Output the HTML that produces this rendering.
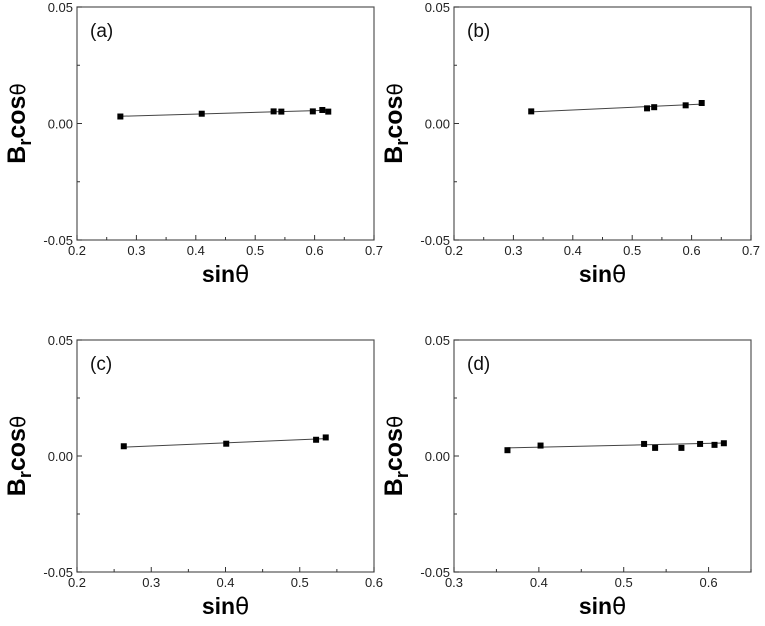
<!DOCTYPE html>
<html><head><meta charset="utf-8"><style>
body{margin:0;background:#fff;}
svg{display:block;font-family:"Liberation Sans",Arial,sans-serif;}
</style></head><body>
<svg id="fig" width="765" height="626"></svg>
<script>
const xsA=[0.273,0.410,0.531,0.544,0.597,0.613,0.623];
const ysA=[0.0030,0.0042,0.0052,0.0051,0.0052,0.0058,0.0051];
const fitA=[0.0031,0.0057];
const xsB=[0.330,0.525,0.537,0.590,0.617];
const ysB=[0.0052,0.0065,0.0070,0.0078,0.0088];
const fitB=[0.0050,0.0083];
const xsC=[0.263,0.401,0.522,0.535];
const ysC=[0.0042,0.0053,0.0070,0.0080];
const fitC=[0.0038,0.0075];
const xsD=[0.363,0.402,0.524,0.537,0.568,0.590,0.607,0.618];
const ysD=[0.0025,0.0045,0.0052,0.0035,0.0035,0.0052,0.0048,0.0055];
const fitD=[0.0035,0.0056];
const xTicksAB=[0.2,0.3,0.4,0.5,0.6,0.7];
const xTicksC=[0.2,0.3,0.4,0.5,0.6];
const xTicksD=[0.3,0.4,0.5,0.6];
const yTicks=[-0.05,0.00,0.05];
const panelLabels=['(a)','(b)','(c)','(d)'];

const NS='http://www.w3.org/2000/svg';
const svg=document.getElementById('fig');
function mk(tag,attrs,parent){const e=document.createElementNS(NS,tag);for(const k in attrs)e.setAttribute(k,attrs[k]);(parent||svg).appendChild(e);return e;}

const panels=[
 {L:77,T:7,W:297,H:233,xmin:0.2,xmax:0.7,xt:xTicksAB,xs:xsA,ys:ysA,fit:fitA,lab:panelLabels[0],id:'a'},
 {L:454,T:7,W:297,H:233,xmin:0.2,xmax:0.7,xt:xTicksAB,xs:xsB,ys:ysB,fit:fitB,lab:panelLabels[1],id:'b'},
 {L:77,T:340,W:297,H:232,xmin:0.2,xmax:0.6,xt:xTicksC,xs:xsC,ys:ysC,fit:fitC,lab:panelLabels[2],id:'c'},
 {L:454,T:340,W:297,H:232,xmin:0.3,xmax:0.65,xt:xTicksD,xs:xsD,ys:ysD,fit:fitD,lab:panelLabels[3],id:'d'}
];
panels.forEach(p=>{
 const g=mk('g',{});
 
 
 const X=v=>p.L+(v-p.xmin)/(p.xmax-p.xmin)*p.W;
 const Y=v=>p.T+p.H-(v+0.05)/0.1*p.H;
 const box=mk('rect',{x:p.L,y:p.T,width:p.W,height:p.H,fill:'none',stroke:'#555','stroke-width':1.2},g);
 
 
 // x ticks
 p.xt.forEach((t,i)=>{
  const x=X(t);
  mk('line',{x1:x,x2:x,y1:p.T+p.H,y2:p.T+p.H-5,stroke:'#333'},g);
  const tx=mk('text',{x:x,y:p.T+p.H+15,'font-size':13,'text-anchor':'middle',fill:'#222'},g);
  tx.textContent=t.toFixed(1);
  
  
  if(i<p.xt.length-1){const m=X(t+0.05);if(m<=p.L+p.W)mk('line',{x1:m,x2:m,y1:p.T+p.H,y2:p.T+p.H-3,stroke:'#333'},g);}
 });
 if(p.xmax-p.xt[p.xt.length-1]>0.04){const m=X(p.xt[p.xt.length-1]+0.05);mk('line',{x1:m,x2:m,y1:p.T+p.H,y2:p.T+p.H-3,stroke:'#333'},g);}
 // y ticks
 yTicks.forEach(t=>{
  const y=Y(t);
  mk('line',{x1:p.L,x2:p.L+5,y1:y,y2:y,stroke:'#333'},g);
  const ty=mk('text',{x:p.L-4,y:y+5,'font-size':13,'text-anchor':'end',fill:'#222'},g);
  ty.textContent=t.toFixed(2);
  
  
 });
 [-0.025,0.025].forEach(t=>{const y=Y(t);mk('line',{x1:p.L,x2:p.L+3,y1:y,y2:y,stroke:'#333'},g);});
 // fit line
 const x0=p.xs[0],x1=p.xs[p.xs.length-1];
 const fl=mk('line',{x1:X(x0),y1:Y(p.fit[0]),x2:X(x1),y2:Y(p.fit[1]),stroke:'#444','stroke-width':1},g);
 
 
 p.xs.forEach((v,i)=>{
  const r=mk('rect',{x:X(v)-3,y:Y(p.ys[i])-3,width:6,height:6,fill:'#000'},g);
  
  
 });
 const pl=mk('text',{x:p.L+13,y:p.T+30,'font-size':19,fill:'#111'},g);
 pl.textContent=p.lab;
 
 
 const xl=mk('text',{x:p.L+p.W/2,y:p.T+p.H+42,'font-size':23,'font-weight':'bold','text-anchor':'middle',fill:'#000'},g);
 xl.innerHTML='sin<tspan font-weight="normal" font-family="DejaVu Sans">θ</tspan>';
 
 
 const cy=p.T+p.H/2;
 const yl=mk('text',{x:0,y:0,'font-size':25,'font-weight':'bold','text-anchor':'middle',fill:'#000',transform:'translate('+(p.L-52)+','+cy+') rotate(-90)'},g);
 yl.innerHTML='B<tspan font-size="18" dy="6">r</tspan><tspan dy="-6">cos</tspan><tspan font-weight="normal" font-size="20" font-family="DejaVu Sans">θ</tspan>';
 
 
});
</script>
</body></html>
